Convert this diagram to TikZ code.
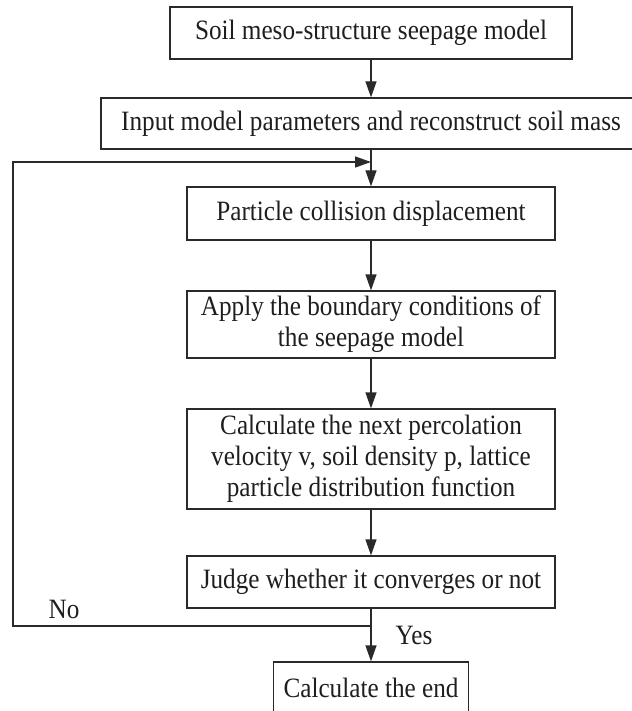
\documentclass[tikz,border=0pt]{standalone}
\usepackage{fontspec}
\setmainfont[FakeStretch=0.9]{Liberation Serif}
\usetikzlibrary{arrows.meta}
\definecolor{ink}{HTML}{2A2A2A}
\definecolor{txt}{HTML}{1E1E1E}
\tikzset{
  box/.style={draw=ink, line width=1.3pt, inner sep=0pt, align=center, text=txt,
    font=\fontsize{28}{31}\selectfont},
  lbl/.style={inner sep=0pt, text=txt, font=\fontsize{28}{31}\selectfont},
  conn/.style={draw=ink, line width=1.3pt},
  arr/.style={conn, -{Triangle[length=16pt,width=11pt]}}
}
\begin{document}
\begin{tikzpicture}[x=1pt,y=-1pt]
\useasboundingbox (0,0) rectangle (631,711);
\node[box, minimum width=402pt, minimum height=52pt] (b1) at (371,33) {Soil meso-structure seepage model};
\node[box, minimum width=540pt, minimum height=51pt] (b2) at (371,123.5) {Input model parameters and reconstruct soil mass};
\node[box, minimum width=368pt, minimum height=53pt] (b3) at (371,213.5) {Particle collision displacement};
\node[box, minimum width=368pt, minimum height=67pt] (b4) at (371,324.5) {Apply the boundary conditions of\\the seepage model};
\node[box, minimum width=368pt, minimum height=100pt] (b5) at (371,459) {Calculate the next percolation\\velocity v, soil density p, lattice\\particle distribution function};
\node[box, minimum width=368pt, minimum height=52pt] (b6) at (371,582) {Judge whether it converges or not};
\node[box, minimum width=195pt, minimum height=52pt] (b7) at (371,688) {Calculate the end};
\coordinate (j) at (371,626);
\coordinate (nl) at (13,626);
\coordinate (nt) at (13,162);
\coordinate (m) at (371,162);
\node[lbl] (no) at (64,609) {No};
\node[lbl] (yes) at (414,635) {Yes};
\draw[arr] (b1) -- (b2);
\draw[arr] (b2) -- (b3);
\draw[arr] (b3) -- (b4);
\draw[arr] (b4) -- (b5);
\draw[arr] (b5) -- (b6);
\draw[arr] (b6) -- (b7);
\draw[arr] (j) -- (nl) -- (nt) -- (m);
\end{tikzpicture}
\end{document}
